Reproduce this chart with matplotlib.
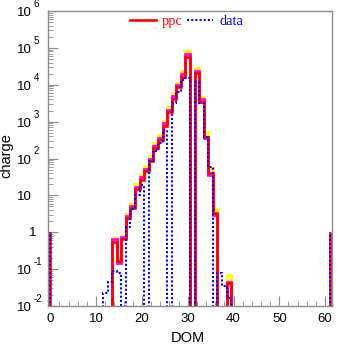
import numpy as np
import matplotlib
matplotlib.use('Agg')
import matplotlib.pyplot as plt
from matplotlib.ticker import MultipleLocator, LogLocator, NullFormatter, FixedLocator
from matplotlib.lines import Line2D

# ---- data (DOM bins centred on integers) ----
dom = np.arange(10, 42)
ppc = [0, 0, 0, 0, 0.55, 0.17, 0.65, 2.4, 4.5, 15, 26, 45, 88, 190, 310, 750,
       1800, 4200, 8500, 16600, 56000, 0, 20500, 3500, 390, 40, 3.3, 0, 0, 0.042, 0, 0]
ppc_magenta = [0, 0, 0, 0, 0.65, 0.15, 0.75, 2.8, 5.3, 17, 31, 53, 100, 220, 370, 900,
               2100, 5000, 10000, 19500, 68000, 0, 24000, 4100, 350, 36, 3.0, 0, 0, 0.045, 0, 0]
ppc_yellow = [0, 0, 0, 0, 0.7, 0.2, 0.8, 3.2, 6, 20, 36, 62, 120, 260, 430, 1050,
              2500, 5800, 11500, 23000, 82000, 0, 28000, 4800, 520, 55, 4.2, 0, 0, 0.07, 0, 0]
data = [0, 0, 0.022, 0.046, 0.09, 0.078, 0, 1.4, 4.2, 10, 19, 0, 83, 155, 270, 600,
        0, 3200, 6500, 13500, 15500, 0, 12000, 3200, 380, 60, 0, 0.08, 0.034, 0.016, 0, 0]
end_dom = [0, 61]
end_ppc = [1, 1]
end_data = [1, 1]

xticks = [0, 10, 20, 30, 40, 50, 60]
decades = [-2, -1, 0, 1, 2, 3, 4, 5, 6]

W, H = 337, 344
fig = plt.figure(figsize=(W / 100, H / 100), dpi=100)
ax = fig.add_axes([48 / W, 1 - 306 / H, 284 / W, 295 / H])
ax.set_yscale('log')
ax.set_xlim(-0.5, 61.5)
ax.set_ylim(1e-2, 1e6)

edges = np.append(dom - 0.5, dom[-1] + 0.5)
floor = 1e-8


def prep(v):
    v = np.asarray(v, dtype=float)
    return np.where(v > 0, v, floor)


ax.stairs(prep(ppc_yellow), edges, baseline=None, color='#ffff00', lw=2.2)
ax.stairs(prep(ppc_magenta), edges, baseline=None, color='#ff00ff', lw=2.0)
ax.stairs(prep(ppc), edges, baseline=None, color='#ff0000', lw=1.9)
ax.stairs(prep(data), edges, baseline=None, color='#0000ff', lw=1.5,
          linestyle=(0, (1, 1)))

ax.vlines(end_dom, floor, end_ppc, color='#ff0000', lw=1.9)
ax.vlines(end_dom, floor, end_data, color='#0000ff', lw=1.5, linestyle=(0, (1, 1)))

# axes styling
for s in ax.spines.values():
    s.set_color('#8c8c8c')
    s.set_linewidth(1.0)

ax.xaxis.set_major_locator(FixedLocator(xticks))
ax.xaxis.set_minor_locator(MultipleLocator(2))
ax.set_xticklabels([str(t) for t in xticks], fontsize=9.5, family='Liberation Sans')
ax.tick_params(axis='x', which='both', direction='in', top=False, colors='#8c8c8c',
               labelcolor='black', pad=5)
ax.tick_params(axis='x', which='major', length=7)
ax.tick_params(axis='x', which='minor', length=3.5)

ax.yaxis.set_major_locator(LogLocator(base=10, numticks=20))
ax.yaxis.set_minor_locator(LogLocator(base=10, subs=np.arange(2, 10), numticks=20))
ax.yaxis.set_major_formatter(NullFormatter())
ax.yaxis.set_minor_formatter(NullFormatter())
ax.tick_params(axis='y', which='both', direction='in', right=False, colors='#8c8c8c')
ax.tick_params(axis='y', which='major', length=7)
ax.tick_params(axis='y', which='minor', length=3.5)

ytr = ax.get_yaxis_transform()
for k in decades:
    y = 10.0 ** k
    if k == 0:
        ax.annotate('1', xy=(0, y), xycoords=ytr, xytext=(-12, -1),
                    textcoords='offset pixels', ha='right', va='center',
                    fontsize=9.5, family='Liberation Sans', annotation_clip=False)
    else:
        ax.annotate('10', xy=(0, y), xycoords=ytr, xytext=(-16, -2),
                    textcoords='offset pixels', ha='right', va='center',
                    fontsize=9.5, family='Liberation Sans', annotation_clip=False)
        if k != 1:
            ax.annotate(str(k), xy=(0, y), xycoords=ytr, xytext=(-14, 7),
                        textcoords='offset pixels', ha='left', va='center',
                        fontsize=7, family='Liberation Sans', annotation_clip=False)

fig.text(187.5 / W, 1 - 338 / H, 'DOM', ha='center', va='center',
         fontsize=10.5, family='Liberation Sans')
fig.text(6 / W, 1 - 156 / H, 'charge', ha='center', va='center', rotation=90,
         fontsize=10.5, family='Liberation Sans')

handles = [Line2D([], [], color='#ff0000', lw=1.9),
           Line2D([], [], color='#0000ff', lw=1.5, linestyle=(0, (1, 1)))]
leg = ax.legend(handles, ['ppc', 'data'], ncol=2, frameon=False, loc='center',
                bbox_to_anchor=(0.488, 0.963), handlelength=1.8, handletextpad=0.4,
                columnspacing=0.3, borderpad=0, borderaxespad=0,
                prop={'family': 'Liberation Serif', 'size': 10.4})
for t, c in zip(leg.get_texts(), ['#ff0000', '#0000ff']):
    t.set_color(c)

fig.savefig('out.png', dpi=100)
